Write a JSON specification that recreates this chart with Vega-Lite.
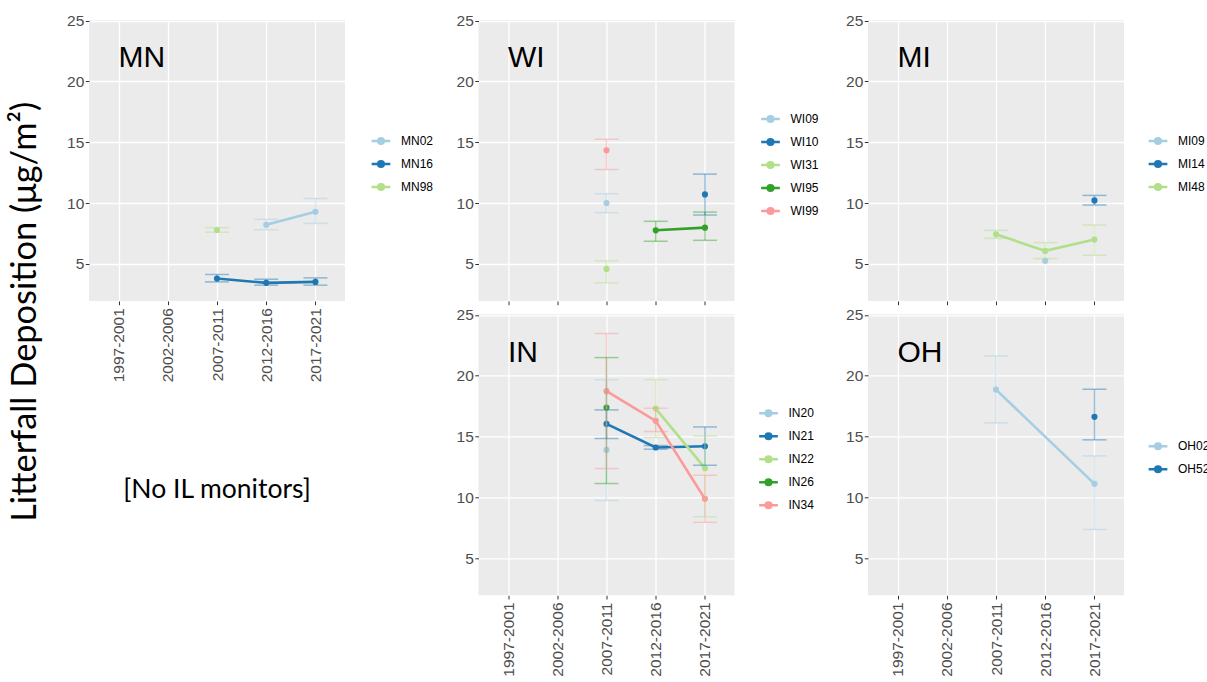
{
  "$schema": "https://vega.github.io/schema/vega-lite/v6.json",
  "padding": {"left": 8, "top": 13, "right": 0, "bottom": 0},
  "background": "white",
  "title": {"text": "Litterfall Deposition (μg/m²)", "orient": "left", "anchor": "middle", "frame": "bounds", "font": "Lato", "fontSize": 34.4, "fontWeight": "normal", "color": "black", "offset": 23, "dx": 33},
  "data": {"values": [
    {"state": "MN", "site": "MN02", "period": "2012-2016", "value": 8.22, "lo": 7.81, "hi": 8.66},
    {"state": "MN", "site": "MN02", "period": "2017-2021", "value": 9.29, "lo": 8.33, "hi": 10.38},
    {"state": "MN", "site": "MN16", "period": "2007-2011", "value": 3.80, "lo": 3.52, "hi": 4.13},
    {"state": "MN", "site": "MN16", "period": "2012-2016", "value": 3.44, "lo": 3.25, "hi": 3.74},
    {"state": "MN", "site": "MN16", "period": "2017-2021", "value": 3.52, "lo": 3.25, "hi": 3.85},
    {"state": "MN", "site": "MN98", "period": "2007-2011", "value": 7.79, "lo": 7.60, "hi": 7.98},
    {"state": "WI", "site": "WI09", "period": "2007-2011", "value": 10.0, "lo": 9.21, "hi": 10.77},
    {"state": "WI", "site": "WI31", "period": "2007-2011", "value": 4.59, "lo": 3.44, "hi": 5.25},
    {"state": "WI", "site": "WI99", "period": "2007-2011", "value": 14.34, "lo": 12.76, "hi": 15.25},
    {"state": "WI", "site": "WI95", "period": "2012-2016", "value": 7.76, "lo": 6.86, "hi": 8.50},
    {"state": "WI", "site": "WI95", "period": "2017-2021", "value": 7.98, "lo": 6.94, "hi": 9.26},
    {"state": "WI", "site": "WI10", "period": "2017-2021", "value": 10.71, "lo": 9.02, "hi": 12.38},
    {"state": "MI", "site": "MI48", "period": "2007-2011", "value": 7.43, "lo": 7.10, "hi": 7.76},
    {"state": "MI", "site": "MI48", "period": "2012-2016", "value": 6.07, "lo": 5.44, "hi": 6.75},
    {"state": "MI", "site": "MI09", "period": "2012-2016", "value": 5.25, "lo": null, "hi": null},
    {"state": "MI", "site": "MI48", "period": "2017-2021", "value": 7.00, "lo": 5.71, "hi": 8.20},
    {"state": "MI", "site": "MI14", "period": "2017-2021", "value": 10.22, "lo": 9.84, "hi": 10.63},
    {"state": "IN", "site": "IN20", "period": "2007-2011", "value": 13.9, "lo": 9.74, "hi": 19.68},
    {"state": "IN", "site": "IN21", "period": "2007-2011", "value": 16.04, "lo": 14.84, "hi": 17.19},
    {"state": "IN", "site": "IN26", "period": "2007-2011", "value": 17.38, "lo": 11.14, "hi": 21.49},
    {"state": "IN", "site": "IN34", "period": "2007-2011", "value": 18.73, "lo": 12.37, "hi": 23.47},
    {"state": "IN", "site": "IN21", "period": "2012-2016", "value": 14.1, "lo": 13.96, "hi": 14.26},
    {"state": "IN", "site": "IN22", "period": "2012-2016", "value": 17.3, "lo": 14.92, "hi": 19.68},
    {"state": "IN", "site": "IN34", "period": "2012-2016", "value": 16.29, "lo": 15.41, "hi": 17.33},
    {"state": "IN", "site": "IN21", "period": "2017-2021", "value": 14.2, "lo": 12.64, "hi": 15.79},
    {"state": "IN", "site": "IN22", "period": "2017-2021", "value": 12.4, "lo": 8.40, "hi": 15.05},
    {"state": "IN", "site": "IN34", "period": "2017-2021", "value": 9.88, "lo": 7.95, "hi": 11.82},
    {"state": "OH", "site": "OH02", "period": "2007-2011", "value": 18.86, "lo": 16.12, "hi": 21.63},
    {"state": "OH", "site": "OH02", "period": "2017-2021", "value": 11.11, "lo": 7.36, "hi": 13.41},
    {"state": "OH", "site": "OH52", "period": "2017-2021", "value": 16.62, "lo": 14.73, "hi": 18.89}
  ]},
  "columns": 3,
  "spacing": {"row": 13.3, "column": 133.5},
  "bounds": "flush",
  "resolve": {"scale": {"color": "independent"}, "legend": {"color": "independent"}},
  "concat": [
    {
      "width": 256, "height": 281,
      "view": {"fill": "#ebebeb", "stroke": null},
      "resolve": {"axis": {"y": "independent"}},
      "layer": [
        {"transform": [{"filter": "datum.state === 'MN'"}], "mark": {"type": "point", "filled": true, "size": 38, "opacity": 1}, "encoding": {
          "x": {"field": "period", "type": "ordinal", "scale": {"type": "point", "domain": ["1997-2001", "2002-2006", "2007-2011", "2012-2016", "2017-2021"], "padding": 0.6}, "axis": {"labelAngle": -90, "labelPadding": 3, "grid": true, "gridWidth": 1.3, "title": null}},
          "y": {"field": "value", "type": "quantitative", "scale": {"domain": [1.95, 25.05], "nice": false, "zero": false}, "axis": {"values": [5, 10, 15, 20, 25], "gridWidth": 1.3, "labelPadding": 1.5, "title": null}},
          "color": {"field": "site", "type": "nominal", "scale": {"domain": ["MN02", "MN16", "MN98"], "range": ["#a6cee3", "#1f78b4", "#b2df8a"]}, "legend": {"legendX": 281, "legendY": 110, "rowPadding": 4}}}},
        {"transform": [{"filter": "datum.state === 'MN'"}], "mark": {"type": "line", "strokeWidth": 2.6}, "encoding": {
          "x": {"field": "period", "type": "ordinal"},
          "y": {"field": "value", "type": "quantitative", "axis": {"values": [2.5, 7.5, 12.5, 17.5, 22.5], "orient": "left", "gridWidth": 0.6, "labels": false, "ticks": false, "title": null}},
          "color": {"field": "site", "type": "nominal"}}},
        {"transform": [{"filter": "datum.state === 'MN'"}], "mark": {"type": "rule", "strokeWidth": 1.5, "opacity": 0.45}, "encoding": {
          "x": {"field": "period", "type": "ordinal"},
          "y": {"field": "lo", "type": "quantitative", "axis": null}, "y2": {"field": "hi"},
          "color": {"field": "site", "type": "nominal"}}},
        {"transform": [{"filter": "datum.state === 'MN'"}], "mark": {"type": "tick", "size": 24, "thickness": 1.5, "opacity": 0.45}, "encoding": {
          "x": {"field": "period", "type": "ordinal"},
          "y": {"field": "lo", "type": "quantitative", "axis": null},
          "color": {"field": "site", "type": "nominal"}}},
        {"transform": [{"filter": "datum.state === 'MN'"}], "mark": {"type": "tick", "size": 24, "thickness": 1.5, "opacity": 0.45}, "encoding": {
          "x": {"field": "period", "type": "ordinal"},
          "y": {"field": "hi", "type": "quantitative", "axis": null},
          "color": {"field": "site", "type": "nominal"}}},
        {"data": {"values": [{"label": "MN"}]}, "mark": {"type": "text", "font": "Liberation Sans", "fontSize": 30, "align": "left", "baseline": "alphabetic", "color": "black"}, "encoding": {
          "x": {"datum": "1997-2001", "type": "ordinal"},
          "y": {"datum": 21.15, "type": "quantitative", "axis": null},
          "text": {"field": "label"}}}
      ]
    },
    {
      "width": 256, "height": 281,
      "view": {"fill": "#ebebeb", "stroke": null},
      "resolve": {"axis": {"y": "independent"}},
      "layer": [
        {"transform": [{"filter": "datum.state === 'WI'"}], "mark": {"type": "point", "filled": true, "size": 38, "opacity": 1}, "encoding": {
          "x": {"field": "period", "type": "ordinal", "scale": {"type": "point", "domain": ["1997-2001", "2002-2006", "2007-2011", "2012-2016", "2017-2021"], "padding": 0.6}, "axis": {"labels": false, "grid": true, "gridWidth": 1.3, "title": null}},
          "y": {"field": "value", "type": "quantitative", "scale": {"domain": [1.95, 25.05], "nice": false, "zero": false}, "axis": {"values": [5, 10, 15, 20, 25], "gridWidth": 1.3, "labelPadding": 1.5, "title": null}},
          "color": {"field": "site", "type": "nominal", "scale": {"domain": ["WI09", "WI10", "WI31", "WI95", "WI99"], "range": ["#a6cee3", "#1f78b4", "#b2df8a", "#33a02c", "#fb9a99"]}, "legend": {"legendX": 281, "legendY": 88, "rowPadding": 4}}}},
        {"transform": [{"filter": "datum.state === 'WI'"}], "mark": {"type": "line", "strokeWidth": 2.6}, "encoding": {
          "x": {"field": "period", "type": "ordinal"},
          "y": {"field": "value", "type": "quantitative", "axis": {"values": [2.5, 7.5, 12.5, 17.5, 22.5], "orient": "left", "gridWidth": 0.6, "labels": false, "ticks": false, "title": null}},
          "color": {"field": "site", "type": "nominal"}}},
        {"transform": [{"filter": "datum.state === 'WI'"}], "mark": {"type": "rule", "strokeWidth": 1.5, "opacity": 0.45}, "encoding": {
          "x": {"field": "period", "type": "ordinal"},
          "y": {"field": "lo", "type": "quantitative", "axis": null}, "y2": {"field": "hi"},
          "color": {"field": "site", "type": "nominal"}}},
        {"transform": [{"filter": "datum.state === 'WI'"}], "mark": {"type": "tick", "size": 24, "thickness": 1.5, "opacity": 0.45}, "encoding": {
          "x": {"field": "period", "type": "ordinal"},
          "y": {"field": "lo", "type": "quantitative", "axis": null},
          "color": {"field": "site", "type": "nominal"}}},
        {"transform": [{"filter": "datum.state === 'WI'"}], "mark": {"type": "tick", "size": 24, "thickness": 1.5, "opacity": 0.45}, "encoding": {
          "x": {"field": "period", "type": "ordinal"},
          "y": {"field": "hi", "type": "quantitative", "axis": null},
          "color": {"field": "site", "type": "nominal"}}},
        {"data": {"values": [{"label": "WI"}]}, "mark": {"type": "text", "font": "Liberation Sans", "fontSize": 30, "align": "left", "baseline": "alphabetic", "color": "black"}, "encoding": {
          "x": {"datum": "1997-2001", "type": "ordinal"},
          "y": {"datum": 21.15, "type": "quantitative", "axis": null},
          "text": {"field": "label"}}}
      ]
    },
    {
      "width": 256, "height": 281,
      "view": {"fill": "#ebebeb", "stroke": null},
      "resolve": {"axis": {"y": "independent"}},
      "layer": [
        {"transform": [{"filter": "datum.state === 'MI'"}], "mark": {"type": "point", "filled": true, "size": 38, "opacity": 1}, "encoding": {
          "x": {"field": "period", "type": "ordinal", "scale": {"type": "point", "domain": ["1997-2001", "2002-2006", "2007-2011", "2012-2016", "2017-2021"], "padding": 0.6}, "axis": {"labels": false, "grid": true, "gridWidth": 1.3, "title": null}},
          "y": {"field": "value", "type": "quantitative", "scale": {"domain": [1.95, 25.05], "nice": false, "zero": false}, "axis": {"values": [5, 10, 15, 20, 25], "gridWidth": 1.3, "labelPadding": 1.5, "title": null}},
          "color": {"field": "site", "type": "nominal", "scale": {"domain": ["MI09", "MI14", "MI48"], "range": ["#a6cee3", "#1f78b4", "#b2df8a"]}, "legend": {"legendX": 279, "legendY": 110, "rowPadding": 4}}}},
        {"transform": [{"filter": "datum.state === 'MI'"}], "mark": {"type": "line", "strokeWidth": 2.6}, "encoding": {
          "x": {"field": "period", "type": "ordinal"},
          "y": {"field": "value", "type": "quantitative", "axis": {"values": [2.5, 7.5, 12.5, 17.5, 22.5], "orient": "left", "gridWidth": 0.6, "labels": false, "ticks": false, "title": null}},
          "color": {"field": "site", "type": "nominal"}}},
        {"transform": [{"filter": "datum.state === 'MI'"}], "mark": {"type": "rule", "strokeWidth": 1.5, "opacity": 0.45}, "encoding": {
          "x": {"field": "period", "type": "ordinal"},
          "y": {"field": "lo", "type": "quantitative", "axis": null}, "y2": {"field": "hi"},
          "color": {"field": "site", "type": "nominal"}}},
        {"transform": [{"filter": "datum.state === 'MI'"}], "mark": {"type": "tick", "size": 24, "thickness": 1.5, "opacity": 0.45}, "encoding": {
          "x": {"field": "period", "type": "ordinal"},
          "y": {"field": "lo", "type": "quantitative", "axis": null},
          "color": {"field": "site", "type": "nominal"}}},
        {"transform": [{"filter": "datum.state === 'MI'"}], "mark": {"type": "tick", "size": 24, "thickness": 1.5, "opacity": 0.45}, "encoding": {
          "x": {"field": "period", "type": "ordinal"},
          "y": {"field": "hi", "type": "quantitative", "axis": null},
          "color": {"field": "site", "type": "nominal"}}},
        {"data": {"values": [{"label": "MI"}]}, "mark": {"type": "text", "font": "Liberation Sans", "fontSize": 30, "align": "left", "baseline": "alphabetic", "color": "black"}, "encoding": {
          "x": {"datum": "1997-2001", "type": "ordinal"},
          "y": {"datum": 21.15, "type": "quantitative", "axis": null},
          "text": {"field": "label"}}}
      ]
    },
    {
      "width": 256, "height": 281,
      "view": {"stroke": null},
      "data": {"values": [{"label": "[No IL monitors]"}]},
      "mark": {"type": "text", "font": "Lato", "fontSize": 26.5, "align": "center", "baseline": "middle", "color": "black"},
      "encoding": {
        "x": {"datum": 0.5, "type": "quantitative", "scale": {"domain": [0, 1]}, "axis": null},
        "y": {"datum": 0.374, "type": "quantitative", "scale": {"domain": [0, 1]}, "axis": null},
        "text": {"field": "label"}
      }
    },
    {
      "width": 256, "height": 281,
      "view": {"fill": "#ebebeb", "stroke": null},
      "resolve": {"axis": {"y": "independent"}},
      "layer": [
        {"transform": [{"filter": "datum.state === 'IN'"}], "mark": {"type": "point", "filled": true, "size": 38, "opacity": 1}, "encoding": {
          "x": {"field": "period", "type": "ordinal", "scale": {"type": "point", "domain": ["1997-2001", "2002-2006", "2007-2011", "2012-2016", "2017-2021"], "padding": 0.6}, "axis": {"labelAngle": -90, "labelPadding": 3, "grid": true, "gridWidth": 1.3, "title": null}},
          "y": {"field": "value", "type": "quantitative", "scale": {"domain": [1.95, 25.05], "nice": false, "zero": false}, "axis": {"values": [5, 10, 15, 20, 25], "gridWidth": 1.3, "labelPadding": 1.5, "title": null}},
          "color": {"field": "site", "type": "nominal", "scale": {"domain": ["IN20", "IN21", "IN22", "IN26", "IN34"], "range": ["#a6cee3", "#1f78b4", "#b2df8a", "#33a02c", "#fb9a99"]}, "legend": {"legendX": 279, "legendY": 88, "rowPadding": 4}}}},
        {"transform": [{"filter": "datum.state === 'IN'"}], "mark": {"type": "line", "strokeWidth": 2.6}, "encoding": {
          "x": {"field": "period", "type": "ordinal"},
          "y": {"field": "value", "type": "quantitative", "axis": {"values": [2.5, 7.5, 12.5, 17.5, 22.5], "orient": "left", "gridWidth": 0.6, "labels": false, "ticks": false, "title": null}},
          "color": {"field": "site", "type": "nominal"}}},
        {"transform": [{"filter": "datum.state === 'IN'"}], "mark": {"type": "rule", "strokeWidth": 1.5, "opacity": 0.45}, "encoding": {
          "x": {"field": "period", "type": "ordinal"},
          "y": {"field": "lo", "type": "quantitative", "axis": null}, "y2": {"field": "hi"},
          "color": {"field": "site", "type": "nominal"}}},
        {"transform": [{"filter": "datum.state === 'IN'"}], "mark": {"type": "tick", "size": 24, "thickness": 1.5, "opacity": 0.45}, "encoding": {
          "x": {"field": "period", "type": "ordinal"},
          "y": {"field": "lo", "type": "quantitative", "axis": null},
          "color": {"field": "site", "type": "nominal"}}},
        {"transform": [{"filter": "datum.state === 'IN'"}], "mark": {"type": "tick", "size": 24, "thickness": 1.5, "opacity": 0.45}, "encoding": {
          "x": {"field": "period", "type": "ordinal"},
          "y": {"field": "hi", "type": "quantitative", "axis": null},
          "color": {"field": "site", "type": "nominal"}}},
        {"data": {"values": [{"label": "IN"}]}, "mark": {"type": "text", "font": "Liberation Sans", "fontSize": 30, "align": "left", "baseline": "alphabetic", "color": "black"}, "encoding": {
          "x": {"datum": "1997-2001", "type": "ordinal"},
          "y": {"datum": 21.15, "type": "quantitative", "axis": null},
          "text": {"field": "label"}}}
      ]
    },
    {
      "width": 256, "height": 281,
      "view": {"fill": "#ebebeb", "stroke": null},
      "resolve": {"axis": {"y": "independent"}},
      "layer": [
        {"transform": [{"filter": "datum.state === 'OH'"}], "mark": {"type": "point", "filled": true, "size": 38, "opacity": 1}, "encoding": {
          "x": {"field": "period", "type": "ordinal", "scale": {"type": "point", "domain": ["1997-2001", "2002-2006", "2007-2011", "2012-2016", "2017-2021"], "padding": 0.6}, "axis": {"labelAngle": -90, "labelPadding": 3, "grid": true, "gridWidth": 1.3, "title": null}},
          "y": {"field": "value", "type": "quantitative", "scale": {"domain": [1.95, 25.05], "nice": false, "zero": false}, "axis": {"values": [5, 10, 15, 20, 25], "gridWidth": 1.3, "labelPadding": 1.5, "title": null}},
          "color": {"field": "site", "type": "nominal", "scale": {"domain": ["OH02", "OH52"], "range": ["#a6cee3", "#1f78b4"]}, "legend": {"legendX": 279, "legendY": 121, "rowPadding": 4}}}},
        {"transform": [{"filter": "datum.state === 'OH'"}], "mark": {"type": "line", "strokeWidth": 2.6}, "encoding": {
          "x": {"field": "period", "type": "ordinal"},
          "y": {"field": "value", "type": "quantitative", "axis": {"values": [2.5, 7.5, 12.5, 17.5, 22.5], "orient": "left", "gridWidth": 0.6, "labels": false, "ticks": false, "title": null}},
          "color": {"field": "site", "type": "nominal"}}},
        {"transform": [{"filter": "datum.state === 'OH'"}], "mark": {"type": "rule", "strokeWidth": 1.5, "opacity": 0.45}, "encoding": {
          "x": {"field": "period", "type": "ordinal"},
          "y": {"field": "lo", "type": "quantitative", "axis": null}, "y2": {"field": "hi"},
          "color": {"field": "site", "type": "nominal"}}},
        {"transform": [{"filter": "datum.state === 'OH'"}], "mark": {"type": "tick", "size": 24, "thickness": 1.5, "opacity": 0.45}, "encoding": {
          "x": {"field": "period", "type": "ordinal"},
          "y": {"field": "lo", "type": "quantitative", "axis": null},
          "color": {"field": "site", "type": "nominal"}}},
        {"transform": [{"filter": "datum.state === 'OH'"}], "mark": {"type": "tick", "size": 24, "thickness": 1.5, "opacity": 0.45}, "encoding": {
          "x": {"field": "period", "type": "ordinal"},
          "y": {"field": "hi", "type": "quantitative", "axis": null},
          "color": {"field": "site", "type": "nominal"}}},
        {"data": {"values": [{"label": "OH"}]}, "mark": {"type": "text", "font": "Liberation Sans", "fontSize": 30, "align": "left", "baseline": "alphabetic", "color": "black"}, "encoding": {
          "x": {"datum": "1997-2001", "type": "ordinal"},
          "y": {"datum": 21.15, "type": "quantitative", "axis": null},
          "text": {"field": "label"}}}
      ]
    }
  ],
  "config": {
    "font": "Liberation Sans",
    "axis": {"domain": false, "labelFont": "Liberation Sans", "labelFontSize": 15.5, "labelColor": "#4d4d4d", "tickColor": "#333333", "tickSize": 3.7, "tickWidth": 1, "gridColor": "white"},
    "legend": {"title": null, "orient": "none", "padding": 0, "symbolType": "M-1,0L1,0M-0.3,0A0.3,0.3,0,1,1,0.3,0A0.3,0.3,0,1,1,-0.3,0Z", "symbolSize": 350, "symbolStrokeWidth": 2.5, "labelFont": "Liberation Sans", "labelFontSize": 12, "labelColor": "black", "labelOffset": 9}
  }
}
